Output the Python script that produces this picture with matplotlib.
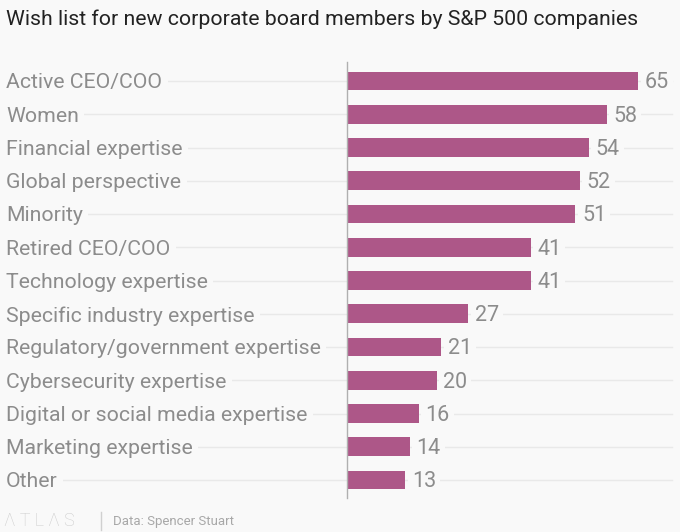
import numpy as np
import matplotlib.pyplot as plt
import matplotlib.transforms as mtransforms

categories = ["Active CEO/COO", "Women", "Financial expertise", "Global perspective",
              "Minority", "Retired CEO/COO", "Technology expertise",
              "Specific industry expertise", "Regulatory/government expertise",
              "Cybersecurity expertise", "Digital or social media expertise",
              "Marketing expertise", "Other"]
values = [65, 58, 54, 52, 51, 41, 41, 27, 21, 20, 16, 14, 13]

bg = "#f9f9f9"
bar_color = "#ad5788"
text_gray = "#8c8c8c"
W, H = 680, 532

plt.rcParams['font.family'] = ['Roboto', 'DejaVu Sans']
fig = plt.figure(figsize=(W / 100, H / 100), dpi=100, facecolor=bg)

# axes placed in pixels: x=0 at 347px, row centres 81..480px
px_per_unit = 291 / 65
row_h = 399 / 12
x0 = 347
xmax = 72
top = 81 - row_h / 2
bottom = 480 + row_h / 2
ax = fig.add_axes([x0 / W, 1 - bottom / H, xmax * px_per_unit / W, (bottom - top) / H])
ax.set_facecolor("none")
ax.set_xlim(0, xmax)
ax.set_ylim(len(categories) - 0.5, -0.5)
ax.axis("off")

y = np.arange(len(categories))
trans = mtransforms.blended_transform_factory(fig.transFigure, ax.transData)

for i, (cat, v) in enumerate(zip(categories, values)):
    ax.plot([0, 672 / W], [i, i], color="#e9e9e9", lw=1, transform=trans,
            clip_on=False, zorder=0)
    ax.text(6 / W, i + 0.06, cat, transform=trans, fontsize=15.3, color=text_gray,
            va="center", ha="left", zorder=2,
            bbox=dict(facecolor=bg, edgecolor="none", pad=4))
    ax.text(v + 1.5, i + 0.06, str(v), fontsize=15.5, color=text_gray, va="center",
            ha="left", zorder=2, bbox=dict(facecolor=bg, edgecolor="none", pad=3))

ax.barh(y, values, height=0.57, color=bar_color, zorder=1)
ax.plot([0, 0], [-0.57, len(categories) - 0.45], color="#b0b0b0", lw=1,
        clip_on=False, zorder=3)

fig.text(6 / W, 1 - 19 / H, "Wish list for new corporate board members by S&P 500 companies",
         fontsize=15.3, color="#222222", va="center", ha="left")

fig.text(4 / W, 1 - 521 / H, "Λ T L Λ S", fontsize=13, fontweight="light",
         color="#cccccc", va="center", ha="left")
fig.lines.append(plt.Line2D([101 / W, 101 / W], [1 - 512 / H, 1 - 530 / H],
                            color="#d0d0d0", lw=1, transform=fig.transFigure))
fig.text(113 / W, 1 - 521 / H, "Data: Spencer Stuart", fontsize=9.5, color="#a8a8a8",
         va="center", ha="left")

fig.savefig("out.png", dpi=100, facecolor=bg)
